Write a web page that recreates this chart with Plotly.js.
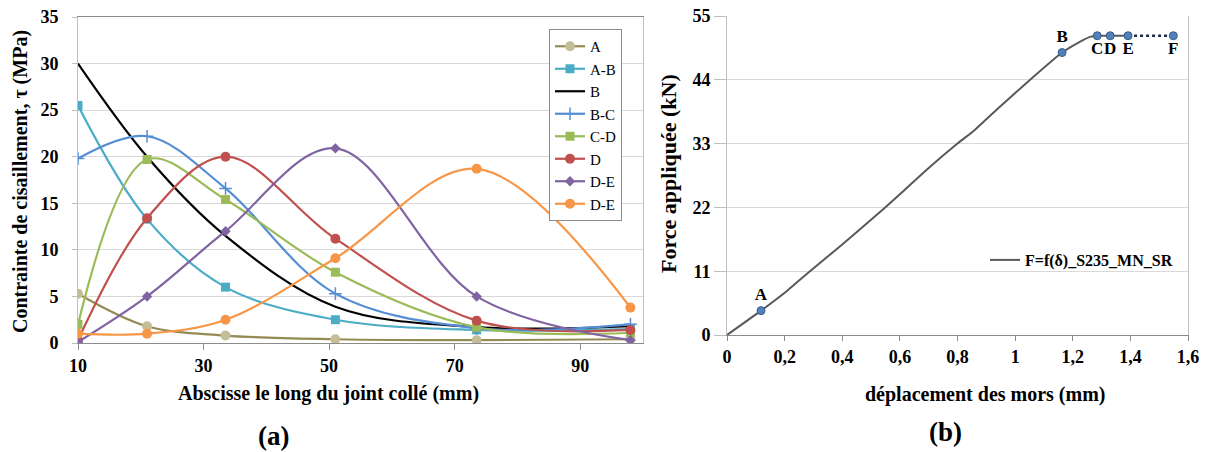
<!DOCTYPE html>
<html>
<head>
<meta charset="utf-8">
<script src="https://cdn.plot.ly/plotly-3.0.1.min.js"></script>
<style>html,body{margin:0;padding:0;background:#fff;}#chart{width:1207px;height:452px;}</style>
</head>
<body>
<div id="chart"></div>
<script>
// ---- Chart (a): shear stress along the bonded joint ----
const abscisse = [10, 21, 33.5, 51, 73.5, 98];
const serieNames = ["A", "A-B", "B", "B-C", "C-D", "D", "D-E", "D-E"];
const tauA   = [5.3, 1.8, 0.8, 0.4, 0.3, 0.4];
const tauAB  = [25.5, 13.3, 6.0, 2.5, 1.4, 1.5];
const tauB   = [30.0, 20.0, 11.5, 3.9, 1.7, 1.8];
const tauBC  = [19.8, 22.2, 16.6, 5.3, 1.6, 2.0];
const tauCD  = [2.0, 19.7, 15.4, 7.6, 1.7, 1.1];
const tauD   = [0.3, 13.4, 20.0, 11.2, 2.4, 1.4];
const tauDE1 = [0.1, 5.0, 12.0, 20.9, 5.0, 0.3];
const tauDE2 = [1.0, 1.0, 2.5, 9.1, 18.7, 3.8];
const xTicksA = [10, 30, 50, 70, 90];
const yTicksA = [0, 5, 10, 15, 20, 25, 30, 35];

// ---- Chart (b): applied force vs jaw displacement ----
const deplacement = [0, 0.118, 0.208, 0.288, 0.40, 0.549, 0.618, 0.70, 0.80, 0.861, 0.95, 1.052, 1.163, 1.226, 1.26, 1.285, 1.33, 1.392];
const force       = [0, 4.2, 7.6, 11.0, 15.6, 22.0, 25.1, 28.8, 33.0, 35.4, 39.5, 44.0, 48.7, 50.6, 51.4, 51.6, 51.6, 51.6];
const ptLabels = ["A", "B", "C", "D", "E", "F"];
const ptDepl   = [0.118, 1.163, 1.285, 1.33, 1.392, 1.549];
const ptForce  = [4.2, 48.7, 51.6, 51.6, 51.6, 51.6];
const ruptureDepl = [1.392, 1.549];
const ruptureForce = [51.6, 51.6];
const xTicksB = [0, 0.2, 0.4, 0.6, 0.8, 1, 1.2, 1.4, 1.6];
const yTicksB = [0, 11, 22, 33, 44, 55];

const serif = "'Liberation Serif', 'Times New Roman', Times, serif";

function serie(name, y, lineColor, markerColor, symbol, size, extra) {
  const t = {
    x: abscisse, y: y, name: name, type: "scatter", mode: "lines+markers",
    xaxis: "x", yaxis: "y", legend: "legend",
    line: {color: lineColor, width: 2.2, shape: "spline", smoothing: 1},
    marker: {color: markerColor, symbol: symbol, size: size, line: {width: 0, color: markerColor}}
  };
  return Object.assign(t, extra || {});
}

const traces = [
  serie(serieNames[0], tauA, "#948a54", "#c4bd97", "circle", 10),
  serie(serieNames[1], tauAB, "#4bacc6", "#4bacc6", "square", 9),
  serie(serieNames[2], tauB, "#000000", "#000000", "circle", 1, {mode: "lines"}),
  serie(serieNames[3], tauBC, "#558ed5", "#558ed5", "cross-thin", 9, {marker: {color: "#558ed5", symbol: "cross-thin", size: 9, line: {width: 1.5, color: "#558ed5"}}}),
  serie(serieNames[4], tauCD, "#9bbb59", "#9bbb59", "square", 9),
  serie(serieNames[5], tauD, "#c0504d", "#c0504d", "circle", 10),
  serie(serieNames[6], tauDE1, "#8064a2", "#8064a2", "diamond", 8),
  serie(serieNames[7], tauDE2, "#f79646", "#f79646", "circle", 10),
  {
    x: deplacement, y: force, name: "F=f(δ)_S235_MN_SR", type: "scatter", mode: "lines",
    xaxis: "x2", yaxis: "y2", legend: "legend2",
    line: {color: "#595959", width: 2, shape: "spline", smoothing: 0.6}
  },
  {
    x: ruptureDepl, y: ruptureForce, type: "scatter", mode: "lines", showlegend: false,
    xaxis: "x2", yaxis: "y2", line: {color: "#1f2a44", width: 2.5, dash: "dot"}
  },
  {
    x: ptDepl, y: ptForce, text: ptLabels, type: "scatter", mode: "markers+text", showlegend: false,
    xaxis: "x2", yaxis: "y2",
    textposition: ["top center", "top center", "bottom center", "bottom center", "bottom center", "bottom center"],
    textfont: {family: serif, size: 17, color: "#000", weight: "bold"},
    marker: {color: "#4f81bd", size: 8, line: {color: "#385d8a", width: 1}}
  }
];

const tickFont = {family: serif, size: 18, color: "#000", weight: "bold"};
const titleFont = {family: serif, size: 20, color: "#000", weight: "bold"};

const layout = {
  width: 1207, height: 452,
  margin: {l: 0, r: 0, t: 0, b: 0},
  paper_bgcolor: "#fff", plot_bgcolor: "#fff",
  separators: ", ",
  showlegend: true,
  font: {family: serif},
  xaxis: {
    domain: [78/1207, 643/1207], range: [10, 100], anchor: "y",
    tickvals: xTicksA, showgrid: false, zeroline: false,
    showline: true, linecolor: "#8c8c8c", linewidth: 1, mirror: true,
    ticks: "outside", ticklen: 6, tickcolor: "#8c8c8c",
    tickfont: tickFont, automargin: false
  },
  yaxis: {
    domain: [1 - 343/452, 1 - 17/452], range: [0, 35], anchor: "x",
    tickvals: yTicksA, gridcolor: "#d9d9d9", zeroline: false,
    showline: true, linecolor: "#bfbfbf", mirror: true,
    ticks: "outside", ticklen: 5, tickcolor: "#bfbfbf",
    tickfont: tickFont, ticklabelstandoff: 10, automargin: false
  },
  xaxis2: {
    domain: [727/1207, 1188/1207], range: [0, 1.6], anchor: "y2",
    tickvals: xTicksB, showgrid: false, zeroline: false,
    showline: true, linecolor: "#8c8c8c", linewidth: 1,
    ticks: "outside", ticklen: 5, tickcolor: "#8c8c8c",
    tickfont: tickFont, automargin: false
  },
  yaxis2: {
    domain: [1 - 335/452, 1 - 16/452], range: [0, 55], anchor: "x2",
    tickvals: yTicksB, gridcolor: "#d9d9d9", zeroline: false,
    showline: true, linecolor: "#bfbfbf", mirror: true,
    ticks: "outside", ticklen: 12, tickcolor: "#bfbfbf",
    tickfont: tickFont, automargin: false
  },
  legend: {
    x: 622/1207, y: 1 - 29/452, xanchor: "right", yanchor: "top",
    bgcolor: "#fff", bordercolor: "#8c8c8c", borderwidth: 1,
    font: {family: serif, size: 15, color: "#000"},
    itemwidth: 30, tracegroupgap: 0
  },
  legend2: {
    x: 985/1207, y: 1 - 243/452, xanchor: "left", yanchor: "top",
    bgcolor: "rgba(0,0,0,0)", borderwidth: 0,
    font: {family: serif, size: 16, color: "#000", weight: "bold"},
    itemwidth: 30
  },
  annotations: [
    {text: "Contrainte de cisaillement, τ (MPa)", xref: "paper", yref: "paper",
     x: 20/1207, y: 1 - 182/452, textangle: -90, showarrow: false, font: titleFont,
     xanchor: "center", yanchor: "middle"},
    {text: "Abscisse le long du joint collé (mm)", xref: "paper", yref: "paper",
     x: 328/1207, y: 1 - 393/452, showarrow: false, font: titleFont,
     xanchor: "center", yanchor: "middle"},
    {text: "(a)", xref: "paper", yref: "paper",
     x: 273/1207, y: 1 - 436/452, showarrow: false,
     font: {family: serif, size: 27, color: "#000", weight: "bold"},
     xanchor: "center", yanchor: "middle"},
    {text: "Force appliquée (kN)", xref: "paper", yref: "paper",
     x: 668/1207, y: 1 - 174/452, textangle: -90, showarrow: false,
     font: {family: serif, size: 22, color: "#000", weight: "bold"},
     xanchor: "center", yanchor: "middle"},
    {text: "déplacement des mors (mm)", xref: "paper", yref: "paper",
     x: 985/1207, y: 1 - 394/452, showarrow: false, font: titleFont,
     xanchor: "center", yanchor: "middle"},
    {text: "(b)", xref: "paper", yref: "paper",
     x: 945/1207, y: 1 - 432/452, showarrow: false,
     font: {family: serif, size: 27, color: "#000", weight: "bold"},
     xanchor: "center", yanchor: "middle"}
  ]
};

Plotly.newPlot("chart", traces, layout, {staticPlot: true, displayModeBar: false});
</script>
</body>
</html>
